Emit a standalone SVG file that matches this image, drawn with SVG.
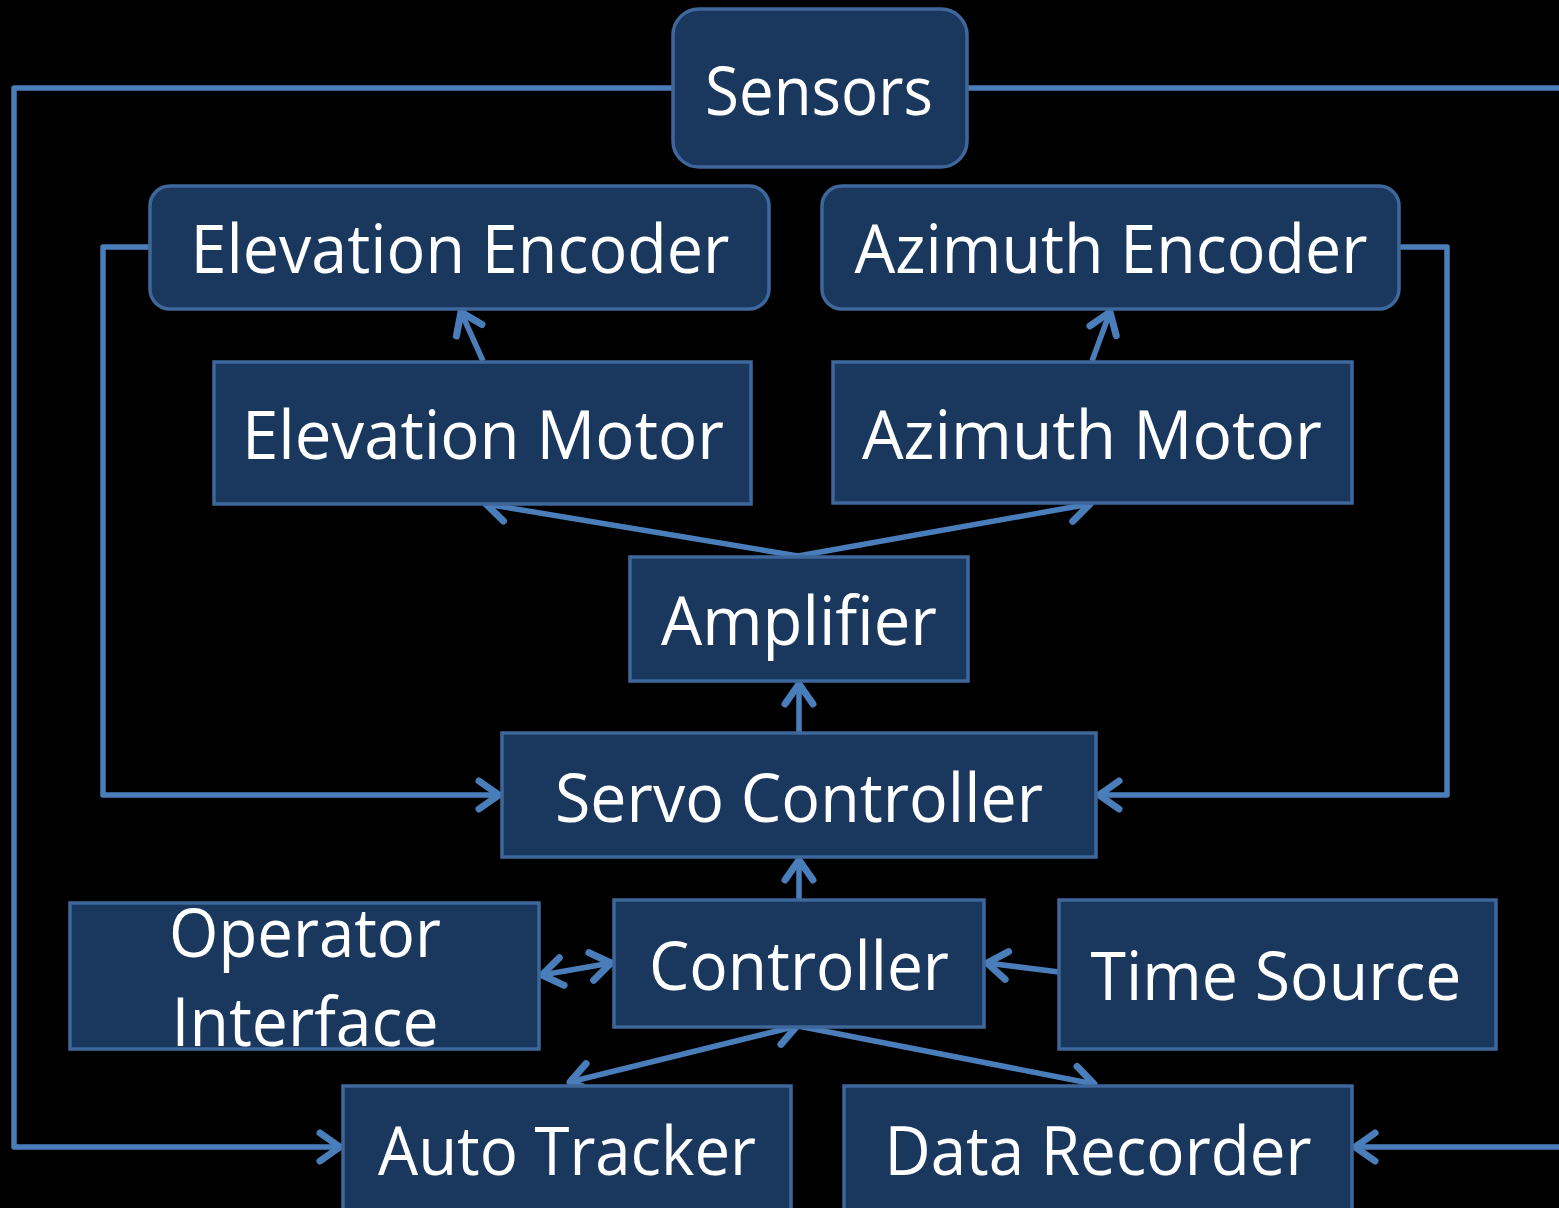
<svg xmlns="http://www.w3.org/2000/svg" width="1559" height="1208" viewBox="0 0 1559 1208">
  <style>
    .box { fill: #1a375e; stroke: #3e679b; stroke-width: 3.5; }
    .lbl { font-family: "Open Sans", "Noto Sans", sans-serif; font-size: 68px; fill: #ffffff; text-anchor: middle; }
    .wire { fill: none; stroke: #4a7ebb; stroke-width: 5.5; stroke-linejoin: round; }
  </style>
  <defs>
    <marker id="head" markerUnits="userSpaceOnUse" viewBox="-30 -20 40 40" markerWidth="40" markerHeight="40" refX="0" refY="0" orient="auto-start-reverse">
      <path d="M-20,-14 L0,0 L-20,14" fill="none" stroke="#4a7ebb" stroke-width="7" stroke-linecap="round" stroke-linejoin="round"/>
    </marker>
  </defs>
  <rect width="1559" height="1208" fill="#000000"/>

  <g id="connectors">
    <path class="wire" d="M673,88 H14 V1147 H340" marker-end="url(#head)"/>
    <path class="wire" d="M967,88 H1575 V1147 H1355" marker-end="url(#head)"/>
    <path class="wire" d="M150,247 H103 V795 H499" marker-end="url(#head)"/>
    <path class="wire" d="M1399,247 H1447 V795 H1099" marker-end="url(#head)"/>
    <path class="wire" d="M483,361 L461,312" marker-end="url(#head)"/>
    <path class="wire" d="M1092,361 L1110,312" marker-end="url(#head)"/>
    <path class="wire" d="M798,556 L486,504" marker-end="url(#head)"/>
    <path class="wire" d="M798,556 L1090,504" marker-end="url(#head)"/>
    <path class="wire" d="M799,732 V684" marker-end="url(#head)"/>
    <path class="wire" d="M799,899 V860" marker-end="url(#head)"/>
    <path class="wire" d="M542,975 L611,963" marker-start="url(#head)" marker-end="url(#head)"/>
    <path class="wire" d="M1059,972 L987,963" marker-end="url(#head)"/>
    <path class="wire" d="M570,1082 L797,1026" marker-start="url(#head)" marker-end="url(#head)"/>
    <path class="wire" d="M798,1026 L1094,1084" marker-end="url(#head)"/>
  </g>

  <g id="sensors">
    <rect class="box" x="673" y="9" width="294" height="158" rx="26"/>
    <text class="lbl" x="819" y="115" textLength="228" lengthAdjust="spacingAndGlyphs">Sensors</text>
  </g>
  <g id="elevation-encoder">
    <rect class="box" x="150" y="186" width="619" height="123" rx="20"/>
    <text class="lbl" x="460" y="273" textLength="539" lengthAdjust="spacingAndGlyphs">Elevation Encoder</text>
  </g>
  <g id="azimuth-encoder">
    <rect class="box" x="822" y="186" width="577" height="123" rx="20"/>
    <text class="lbl" x="1111" y="273" textLength="513" lengthAdjust="spacingAndGlyphs">Azimuth Encoder</text>
  </g>
  <g id="elevation-motor">
    <rect class="box" x="214" y="362" width="537" height="142"/>
    <text class="lbl" x="483" y="459" textLength="482" lengthAdjust="spacingAndGlyphs">Elevation Motor</text>
  </g>
  <g id="azimuth-motor">
    <rect class="box" x="833" y="362" width="519" height="141"/>
    <text class="lbl" x="1092" y="459" textLength="460" lengthAdjust="spacingAndGlyphs">Azimuth Motor</text>
  </g>
  <g id="amplifier">
    <rect class="box" x="630" y="557" width="338" height="124"/>
    <text class="lbl" x="799" y="645" textLength="276" lengthAdjust="spacingAndGlyphs">Amplifier</text>
  </g>
  <g id="servo-controller">
    <rect class="box" x="502" y="733" width="594" height="124"/>
    <text class="lbl" x="799" y="822" textLength="488" lengthAdjust="spacingAndGlyphs">Servo Controller</text>
  </g>
  <g id="operator-interface">
    <rect class="box" x="70" y="903" width="469" height="146"/>
    <text class="lbl" x="305" y="957" textLength="272" lengthAdjust="spacingAndGlyphs">Operator</text>
    <text class="lbl" x="305" y="1046" textLength="267" lengthAdjust="spacingAndGlyphs">Interface</text>
  </g>
  <g id="controller">
    <rect class="box" x="614" y="900" width="370" height="127"/>
    <text class="lbl" x="799" y="990" textLength="300" lengthAdjust="spacingAndGlyphs">Controller</text>
  </g>
  <g id="time-source">
    <rect class="box" x="1059" y="900" width="437" height="149"/>
    <text class="lbl" x="1276" y="1000" textLength="371" lengthAdjust="spacingAndGlyphs">Time Source</text>
  </g>
  <g id="auto-tracker">
    <rect class="box" x="343" y="1086" width="448" height="140"/>
    <text class="lbl" x="567" y="1175" textLength="378" lengthAdjust="spacingAndGlyphs">Auto Tracker</text>
  </g>
  <g id="data-recorder">
    <rect class="box" x="844" y="1086" width="508" height="140"/>
    <text class="lbl" x="1098" y="1175" textLength="427" lengthAdjust="spacingAndGlyphs">Data Recorder</text>
  </g>
</svg>
